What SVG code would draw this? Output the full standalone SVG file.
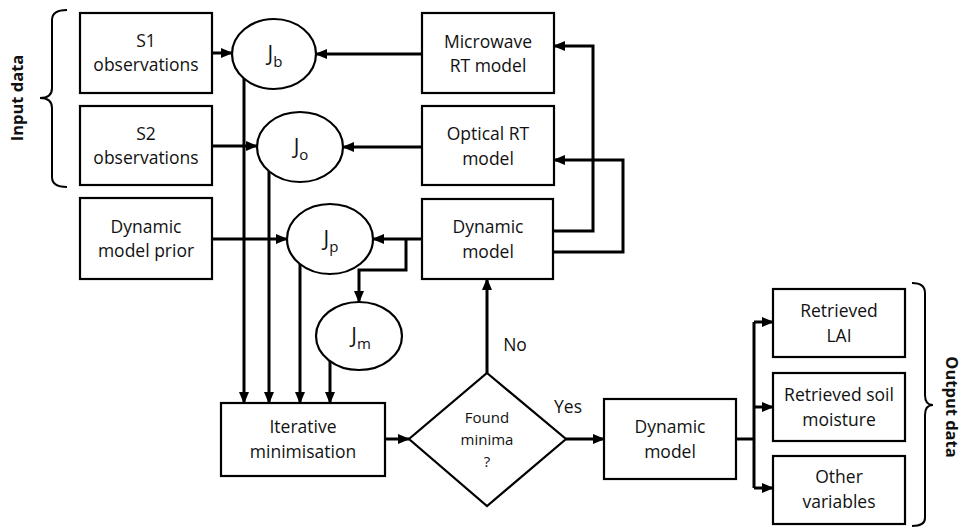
<svg xmlns="http://www.w3.org/2000/svg" width="967" height="527" viewBox="0 0 967 527">
<defs>
<marker id="ah" markerUnits="userSpaceOnUse" markerWidth="12" markerHeight="10" refX="11" refY="5" orient="auto">
<path d="M0,0 L12,5 L0,10 Z" fill="#000"/>
</marker>
<style>
.box{fill:#fff;stroke:#000;stroke-width:2.2}
.t{font-family:"Open Sans","Liberation Sans",sans-serif;font-size:17.5px;text-anchor:middle;fill:#111}
.s{font-family:"Open Sans","Liberation Sans",sans-serif;font-size:15px;text-anchor:middle;fill:#111}
.j{font-family:"Open Sans","Liberation Sans",sans-serif;font-size:21px;text-anchor:middle;fill:#111}
.b{font-family:"Open Sans","Liberation Sans",sans-serif;font-size:16.5px;font-weight:bold;text-anchor:middle;fill:#111}
.c{fill:none;stroke:#000;stroke-width:3}
.ca{fill:none;stroke:#000;stroke-width:3;marker-end:url(#ah)}
.br{fill:none;stroke:#000;stroke-width:2}
</style>
</defs>
<rect width="967" height="527" fill="#fff"/>

<g id="connectors">
<path class="ca" d="M212,53 L232,53"/>
<path class="ca" d="M422,54 L316,54"/>
<path class="ca" d="M212,146 L257,146"/>
<path class="ca" d="M422,147 L343,147"/>
<path class="ca" d="M212,239 L287,239"/>
<path class="ca" d="M422,239 L373,239"/>
<path class="ca" d="M406,239 L406,270 L359,270 L359,302"/>
<path class="ca" d="M553,231 L593,231 L593,46 L554,46"/>
<path class="ca" d="M553,252 L623,252 L623,160 L554,160"/>
<path class="ca" d="M244,78 L244,403"/>
<path class="ca" d="M269,171 L269,403"/>
<path class="ca" d="M300,264 L300,403"/>
<path class="ca" d="M330,361 L330,403"/>
<path class="ca" d="M385,439 L409,439"/>
<path class="ca" d="M487,373 L487,279"/>
<path class="ca" d="M566,439 L604,439"/>
<path class="c" d="M736,439 L754,439"/>
<path class="c" d="M754,322 L754,488"/>
<path class="ca" d="M754,322 L773,322"/>
<path class="ca" d="M754,407 L773,407"/>
<path class="ca" d="M754,488 L773,488"/>
<text class="t" x="515" y="351">No</text>
<text class="t" x="568" y="413">Yes</text>
</g>

<g id="s1">
<rect class="box" x="80" y="13" width="132" height="80"/>
<text class="t" x="146" y="47">S1</text>
<text class="t" x="146" y="71">observations</text>
</g>
<g id="s2">
<rect class="box" x="80" y="106" width="132" height="79"/>
<text class="t" x="146" y="140">S2</text>
<text class="t" x="146" y="164">observations</text>
</g>
<g id="prior">
<rect class="box" x="80" y="198" width="132" height="81"/>
<text class="t" x="146" y="233">Dynamic</text>
<text class="t" x="146" y="257">model prior</text>
</g>
<g id="jb">
<ellipse class="box" cx="274" cy="54" rx="42" ry="35"/>
<text class="j" x="275" y="61">J<tspan font-size="15" dy="6">b</tspan></text>
</g>
<g id="jo">
<ellipse class="box" cx="300" cy="147" rx="43" ry="35"/>
<text class="j" x="301" y="154">J<tspan font-size="15" dy="6">o</tspan></text>
</g>
<g id="jp">
<ellipse class="box" cx="330" cy="239" rx="43" ry="35"/>
<text class="j" x="331" y="246">J<tspan font-size="15" dy="6">p</tspan></text>
</g>
<g id="jm">
<ellipse class="box" cx="359" cy="336" rx="43" ry="34"/>
<text class="j" x="361" y="343">J<tspan font-size="15" dy="6">m</tspan></text>
</g>
<g id="microwave">
<rect class="box" x="422" y="13" width="132" height="80"/>
<text class="t" x="488" y="48">Microwave</text>
<text class="t" x="488" y="72">RT model</text>
</g>
<g id="optical">
<rect class="box" x="422" y="106" width="132" height="79"/>
<text class="t" x="488" y="140">Optical RT</text>
<text class="t" x="488" y="165">model</text>
</g>
<g id="dynamic-top">
<rect class="box" x="422" y="199" width="131" height="80"/>
<text class="t" x="488" y="233">Dynamic</text>
<text class="t" x="488" y="258">model</text>
</g>
<g id="iterative">
<rect class="box" x="221" y="403" width="164" height="73"/>
<text class="t" x="303" y="433">Iterative</text>
<text class="t" x="303" y="458">minimisation</text>
</g>
<g id="decision">
<polygon class="box" points="487,373 566,439 487,506 409,439"/>
<text class="s" x="487" y="423">Found</text>
<text class="s" x="487" y="445">minima</text>
<text class="s" x="487" y="467">?</text>
</g>
<g id="dynamic-bottom">
<rect class="box" x="604" y="399" width="132" height="80"/>
<text class="t" x="670" y="433">Dynamic</text>
<text class="t" x="670" y="458">model</text>
</g>
<g id="lai">
<rect class="box" x="773" y="289" width="132" height="68"/>
<text class="t" x="839" y="317">Retrieved</text>
<text class="t" x="839" y="342">LAI</text>
</g>
<g id="soil">
<rect class="box" x="773" y="373" width="132" height="68"/>
<text class="t" x="839" y="401">Retrieved soil</text>
<text class="t" x="839" y="426">moisture</text>
</g>
<g id="other">
<rect class="box" x="773" y="456" width="132" height="68"/>
<text class="t" x="839" y="483">Other</text>
<text class="t" x="839" y="508">variables</text>
</g>
<g id="input-data">
<path class="br" d="M67,10 Q52,10 52,20 L52,88 Q52,98 40,98 Q52,98 52,108 L52,177 Q52,187 67,187"/>
<text class="b" transform="translate(23,98) rotate(-90)">Input data</text>
</g>
<g id="output-data">
<path class="br" d="M912,283 Q925,283 925,293 L925,395 Q925,405 933,405 Q925,405 925,415 L925,518 Q925,526 912,526"/>
<text class="b" transform="translate(946,407) rotate(90)">Output data</text>
</g>
</svg>
